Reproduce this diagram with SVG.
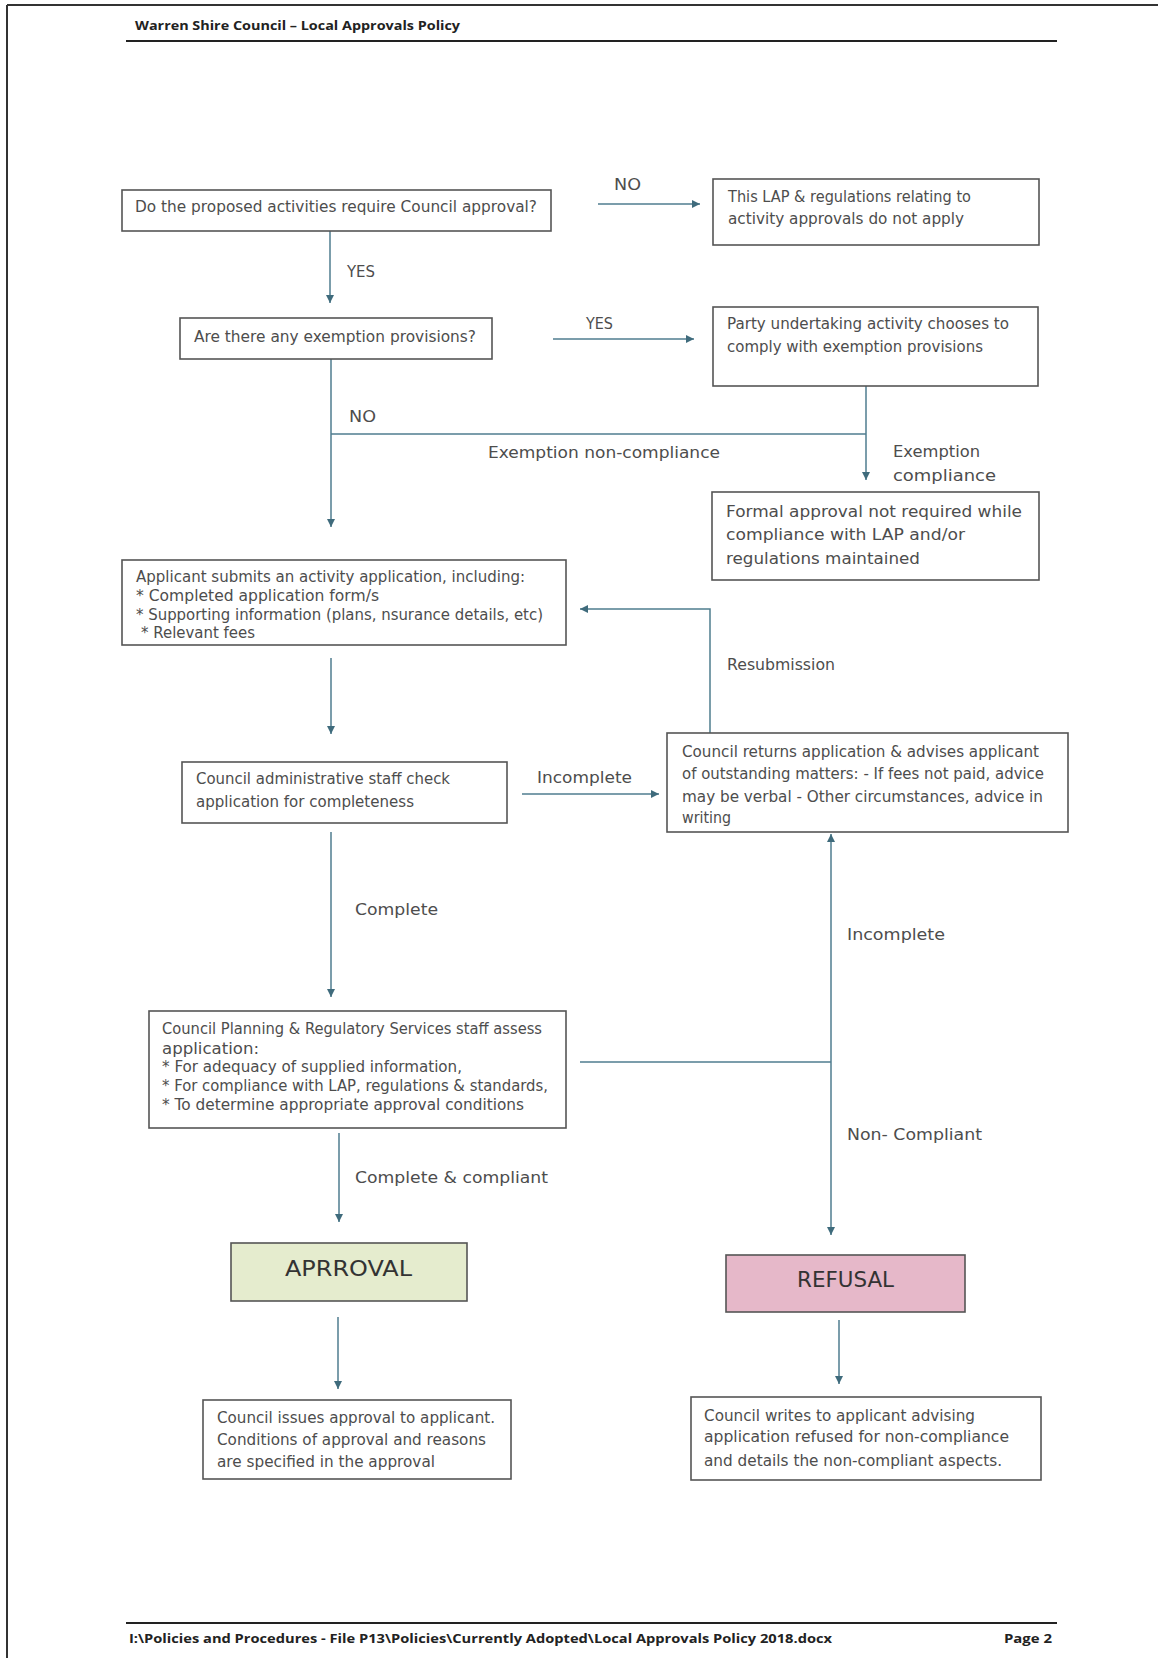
<svg xmlns="http://www.w3.org/2000/svg" width="1158" height="1658" viewBox="0 0 1158 1658">
<style>
.box{fill:#ffffff;stroke:#555;stroke-width:1.6}
.t{font-family:"DejaVu Sans","Liberation Sans",sans-serif;font-size:15px;fill:#4d4d4d}
.lbl{font-family:"DejaVu Sans","Liberation Sans",sans-serif;font-size:15px;fill:#4d4d4d}
.big{font-family:"DejaVu Sans","Liberation Sans",sans-serif;font-size:22px;fill:#333}
.hf{font-family:"Open Sans","Liberation Sans",sans-serif;font-weight:bold;font-size:13px;fill:#222}
.rule{stroke:#222;stroke-width:2.2;fill:none}
.c{stroke:#4f7d8f;stroke-width:1.5;fill:none}
.ca{stroke:#4f7d8f;stroke-width:1.5;fill:none;marker-end:url(#ah)}
</style>
<defs>
<marker id="ah" markerUnits="userSpaceOnUse" markerWidth="9" markerHeight="8" refX="8" refY="4" orient="auto">
<path d="M0,0 L8,4 L0,8 z" fill="#3f6b7c"/>
</marker>
</defs>
<rect x="0" y="0" width="1158" height="1658" fill="#ffffff"/>
<g id="page">
<line x1="7" y1="5" x2="1158" y2="5" stroke="#333" stroke-width="2"/>
<line x1="7" y1="5" x2="7" y2="1658" stroke="#333" stroke-width="2"/>
<text class="hf" x="135" y="30" textLength="325" lengthAdjust="spacingAndGlyphs">Warren Shire Council – Local Approvals Policy</text>
<line class="rule" x1="126" y1="41" x2="1057" y2="41"/>
<line class="rule" x1="126" y1="1623" x2="1057" y2="1623"/>
<text class="hf" x="129" y="1643" textLength="703" lengthAdjust="spacingAndGlyphs">I:\Policies and Procedures - File P13\Policies\Currently Adopted\Local Approvals Policy 2018.docx</text>
<text class="hf" x="1004" y="1643" textLength="48" lengthAdjust="spacingAndGlyphs">Page 2</text>
</g>
<g id="connectors">
<line class="ca" x1="598" y1="204" x2="700" y2="204"/>
<line class="ca" x1="330" y1="231" x2="330" y2="303"/>
<line class="ca" x1="553" y1="339" x2="694" y2="339"/>
<line class="ca" x1="331" y1="359" x2="331" y2="527"/>
<line class="c" x1="331" y1="434" x2="866" y2="434"/>
<line class="ca" x1="866" y1="386" x2="866" y2="480"/>
<line class="ca" x1="331" y1="658" x2="331" y2="734"/>
<line class="ca" x1="522" y1="794" x2="659" y2="794"/>
<polyline class="ca" points="710,733 710,609 580,609"/>
<line class="ca" x1="331" y1="832" x2="331" y2="997"/>
<line class="c" x1="580" y1="1062" x2="831" y2="1062"/>
<line class="ca" x1="831" y1="1062" x2="831" y2="834"/>
<line class="ca" x1="831" y1="1062" x2="831" y2="1235"/>
<line class="ca" x1="339" y1="1133" x2="339" y2="1222"/>
<line class="ca" x1="338" y1="1317" x2="338" y2="1389"/>
<line class="ca" x1="839" y1="1320" x2="839" y2="1384"/>
<text class="lbl" x="614" y="190" textLength="27" lengthAdjust="spacingAndGlyphs">NO</text>
<text class="lbl" x="347" y="277" textLength="28" lengthAdjust="spacingAndGlyphs">YES</text>
<text class="lbl" x="586" y="329" textLength="27" lengthAdjust="spacingAndGlyphs">YES</text>
<text class="lbl" x="349" y="422" textLength="27" lengthAdjust="spacingAndGlyphs">NO</text>
<text class="lbl" x="488" y="458" textLength="232" lengthAdjust="spacingAndGlyphs">Exemption non-compliance</text>
<text class="lbl" x="893" y="457" textLength="87" lengthAdjust="spacingAndGlyphs">Exemption</text>
<text class="lbl" x="893" y="481" textLength="103" lengthAdjust="spacingAndGlyphs">compliance</text>
<text class="lbl" x="727" y="670" textLength="108" lengthAdjust="spacingAndGlyphs">Resubmission</text>
<text class="lbl" x="537" y="783" textLength="95" lengthAdjust="spacingAndGlyphs">Incomplete</text>
<text class="lbl" x="355" y="915" textLength="83" lengthAdjust="spacingAndGlyphs">Complete</text>
<text class="lbl" x="847" y="940" textLength="98" lengthAdjust="spacingAndGlyphs">Incomplete</text>
<text class="lbl" x="847" y="1140" textLength="135" lengthAdjust="spacingAndGlyphs">Non- Compliant</text>
<text class="lbl" x="355" y="1183" textLength="193" lengthAdjust="spacingAndGlyphs">Complete &amp; compliant</text>
</g>
<g id="n1">
<rect class="box" x="122" y="190" width="429" height="41"/>
<text class="t" x="135" y="212" textLength="402" lengthAdjust="spacingAndGlyphs">Do the proposed activities require Council approval?</text>
</g>
<g id="n2">
<rect class="box" x="713" y="179" width="326" height="66"/>
<text class="t" x="728" y="202" textLength="243" lengthAdjust="spacingAndGlyphs">This LAP &amp; regulations relating to</text>
<text class="t" x="728" y="224" textLength="236" lengthAdjust="spacingAndGlyphs">activity approvals do not apply</text>
</g>
<g id="n3">
<rect class="box" x="180" y="318" width="312" height="41"/>
<text class="t" x="194" y="342" textLength="282" lengthAdjust="spacingAndGlyphs">Are there any exemption provisions?</text>
</g>
<g id="n4">
<rect class="box" x="713" y="307" width="325" height="79"/>
<text class="t" x="727" y="329" textLength="282" lengthAdjust="spacingAndGlyphs">Party undertaking activity chooses to</text>
<text class="t" x="727" y="352" textLength="256" lengthAdjust="spacingAndGlyphs">comply with exemption provisions</text>
</g>
<g id="n5">
<rect class="box" x="712" y="492" width="327" height="88"/>
<text class="t" x="726" y="517" textLength="296" lengthAdjust="spacingAndGlyphs">Formal approval not required while</text>
<text class="t" x="726" y="540" textLength="239" lengthAdjust="spacingAndGlyphs">compliance with LAP and/or</text>
<text class="t" x="726" y="564" textLength="194" lengthAdjust="spacingAndGlyphs">regulations maintained</text>
</g>
<g id="n6">
<rect class="box" x="122" y="560" width="444" height="85"/>
<text class="t" x="136" y="582" textLength="389" lengthAdjust="spacingAndGlyphs">Applicant submits an activity application, including:</text>
<text class="t" x="136" y="601" textLength="243" lengthAdjust="spacingAndGlyphs">* Completed application form/s</text>
<text class="t" x="136" y="620" textLength="407" lengthAdjust="spacingAndGlyphs">* Supporting information (plans, nsurance details, etc)</text>
<text class="t" x="141" y="638" textLength="114" lengthAdjust="spacingAndGlyphs">* Relevant fees</text>
</g>
<g id="n7">
<rect class="box" x="182" y="762" width="325" height="61"/>
<text class="t" x="196" y="784" textLength="254" lengthAdjust="spacingAndGlyphs">Council administrative staff check</text>
<text class="t" x="196" y="807" textLength="218" lengthAdjust="spacingAndGlyphs">application for completeness</text>
</g>
<g id="n8">
<rect class="box" x="667" y="733" width="401" height="99"/>
<text class="t" x="682" y="757" textLength="357" lengthAdjust="spacingAndGlyphs">Council returns application &amp; advises applicant</text>
<text class="t" x="682" y="779" textLength="362" lengthAdjust="spacingAndGlyphs">of outstanding matters: - If fees not paid, advice</text>
<text class="t" x="682" y="802" textLength="361" lengthAdjust="spacingAndGlyphs">may be verbal - Other circumstances, advice in</text>
<text class="t" x="682" y="823" textLength="49" lengthAdjust="spacingAndGlyphs">writing</text>
</g>
<g id="n9">
<rect class="box" x="149" y="1011" width="417" height="117"/>
<text class="t" x="162" y="1034" textLength="380" lengthAdjust="spacingAndGlyphs">Council Planning &amp; Regulatory Services staff assess</text>
<text class="t" x="162" y="1054" textLength="97" lengthAdjust="spacingAndGlyphs">application:</text>
<text class="t" x="162" y="1072" textLength="300" lengthAdjust="spacingAndGlyphs">* For adequacy of supplied information,</text>
<text class="t" x="162" y="1091" textLength="386" lengthAdjust="spacingAndGlyphs">* For compliance with LAP, regulations &amp; standards,</text>
<text class="t" x="162" y="1110" textLength="362" lengthAdjust="spacingAndGlyphs">* To determine appropriate approval conditions</text>
</g>
<g id="approval">
<rect x="231" y="1243" width="236" height="58" fill="#e5ecce" stroke="#555" stroke-width="1.6"/>
<text class="big" x="285" y="1276" textLength="127" lengthAdjust="spacingAndGlyphs">APRROVAL</text>
</g>
<g id="refusal">
<rect x="726" y="1255" width="239" height="57" fill="#e6b8c9" stroke="#555" stroke-width="1.6"/>
<text class="big" x="797" y="1287" textLength="97" lengthAdjust="spacingAndGlyphs">REFUSAL</text>
</g>
<g id="n10">
<rect class="box" x="203" y="1400" width="308" height="79"/>
<text class="t" x="217" y="1423" textLength="278" lengthAdjust="spacingAndGlyphs">Council issues approval to applicant.</text>
<text class="t" x="217" y="1445" textLength="269" lengthAdjust="spacingAndGlyphs">Conditions of approval and reasons</text>
<text class="t" x="217" y="1467" textLength="218" lengthAdjust="spacingAndGlyphs">are specified in the approval</text>
</g>
<g id="n11">
<rect class="box" x="691" y="1397" width="350" height="83"/>
<text class="t" x="704" y="1421" textLength="271" lengthAdjust="spacingAndGlyphs">Council writes to applicant advising</text>
<text class="t" x="704" y="1442" textLength="305" lengthAdjust="spacingAndGlyphs">application refused for non-compliance</text>
<text class="t" x="704" y="1466" textLength="298" lengthAdjust="spacingAndGlyphs">and details the non-compliant aspects.</text>
</g>
</svg>
